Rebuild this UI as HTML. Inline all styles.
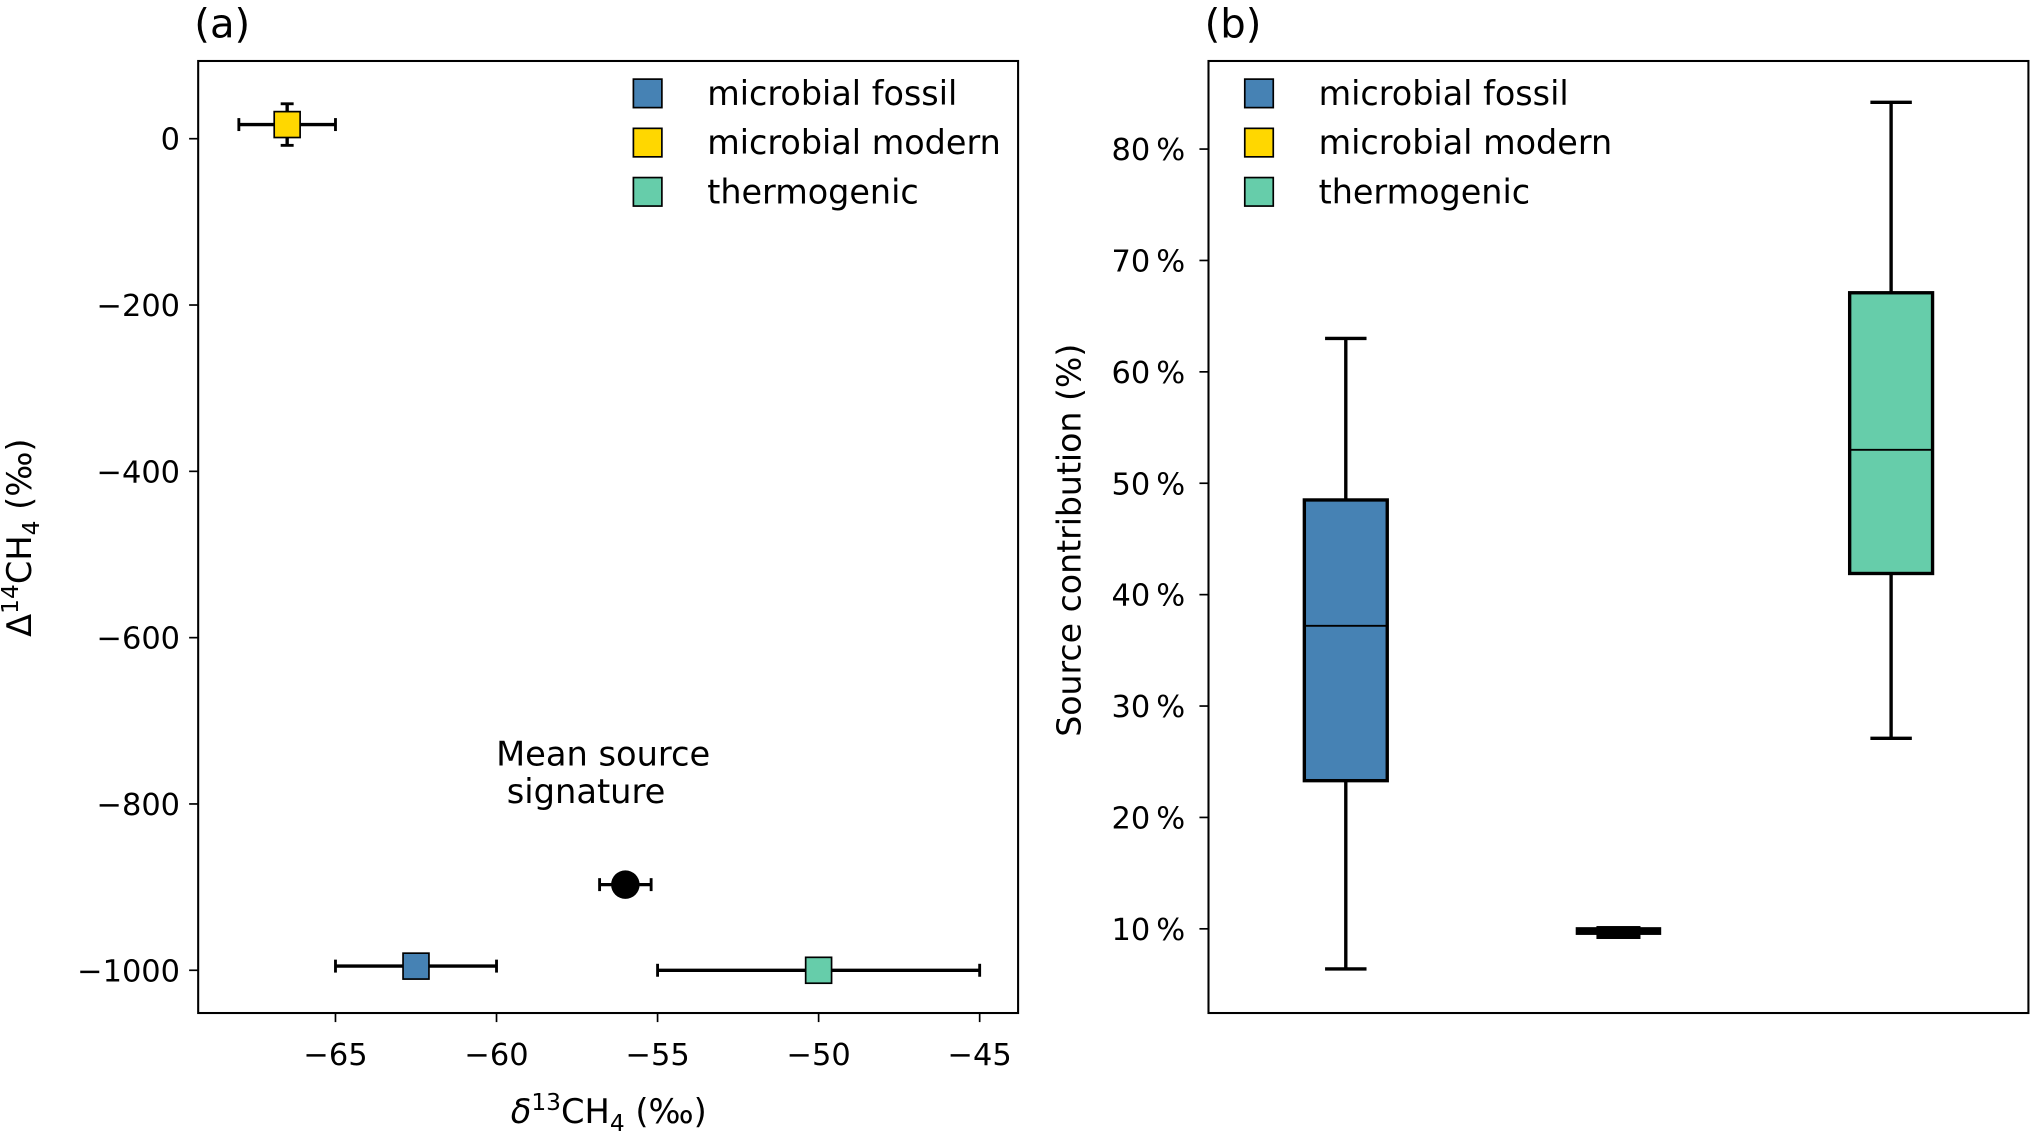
<!DOCTYPE html>
<html><head><meta charset="utf-8">
<style>html,body{margin:0;padding:0;background:#fff}svg{display:block}text{font-family:"DejaVu Sans","Liberation Sans",sans-serif;fill:#000}</style>
</head><body>
<svg id="fig" width="2031" height="1131" viewBox="0 0 1568 873" xmlns="http://www.w3.org/2000/svg">
<text x="150" y="29" font-size="31">(a)</text>
<text x="930" y="29" font-size="31">(b)</text>
<g id="pa"></g>
<g id="pb"></g>
</svg>
<script>
const NS="http://www.w3.org/2000/svg";
// Panel a data
const aNames=["microbial fossil","microbial modern","thermogenic"];
const aX=[-62.5,-66.5,-50];
const aXerr=[2.5,1.5,5];
const aY=[-995,17,-1000];
const aYerr=[0,25,0];
const meanX=-56, meanY=-897, meanXerr=0.8, meanYerr=8;
const aXTicks=[-65,-60,-55,-50,-45];
const aYTicks=[0,-200,-400,-600,-800,-1000];
// Panel b data
const bPos=[1,2,3];
const bLow=[6.4,9.95,27.1];
const bQ1=[23.3,9.9,41.9];
const bMed=[37.2,10.0,53.0];
const bQ3=[48.5,10.25,67.1];
const bHigh=[63.0,10.15,84.2];
const bTicks=[10,20,30,40,50,60,70,80];
const colors=["#4682b4","#ffd700","#66cdaa"];

function el(p,tag,attrs,txt){const e=document.createElementNS(NS,tag);for(const k in attrs)e.setAttribute(k,attrs[k]);if(txt!==undefined)e.textContent=txt;p.appendChild(e);return e;}

// ---- Panel a ----
const A={l:153,t:47,r:786,b:782};
const ax=v=>259+(v+65)*(632-259)/15;
const ay=v=>107+(0-v)*(749-107)/1000;
const pa=document.getElementById('pa');
for(const t of aXTicks){
 const l=el(pa,'line',{x1:ax(t),x2:ax(t),y1:A.b,y2:A.b+7,stroke:'#000','stroke-width':1.3});
 
 
 const tx=el(pa,'text',{x:ax(t),y:A.b+40,'font-size':23.5,'text-anchor':'middle'},'\u2212'+Math.abs(t));
 
 
}
for(const t of aYTicks){
 const l=el(pa,'line',{x1:A.l-7,x2:A.l,y1:ay(t),y2:ay(t),stroke:'#000','stroke-width':1.3});
 
 
 const tx=el(pa,'text',{x:A.l-14,y:ay(t)+8.5,'font-size':23.5,'text-anchor':'end'},(t<0?'\u2212':'')+Math.abs(t));
 
 
}
function errbar(g,x,y,xe,ye){
 el(g,'line',{x1:ax(x-xe),x2:ax(x+xe),y1:ay(y),y2:ay(y),stroke:'#000','stroke-width':2.6});
 el(g,'line',{x1:ax(x-xe),x2:ax(x-xe),y1:ay(y)-5,y2:ay(y)+5,stroke:'#000','stroke-width':2.2});
 el(g,'line',{x1:ax(x+xe),x2:ax(x+xe),y1:ay(y)-5,y2:ay(y)+5,stroke:'#000','stroke-width':2.2});
 if(ye>0){
  el(g,'line',{x1:ax(x),x2:ax(x),y1:ay(y-ye),y2:ay(y+ye),stroke:'#000','stroke-width':2.6});
  el(g,'line',{x1:ax(x)-5,x2:ax(x)+5,y1:ay(y-ye),y2:ay(y-ye),stroke:'#000','stroke-width':2.2});
  el(g,'line',{x1:ax(x)-5,x2:ax(x)+5,y1:ay(y+ye),y2:ay(y+ye),stroke:'#000','stroke-width':2.2});
 }
}
for(let i=0;i<aX.length;i++){
 const g=el(pa,'g',{});
 
 
 errbar(g,aX[i],aY[i],aXerr[i],aYerr[i]);
 el(g,'rect',{x:ax(aX[i])-10,y:ay(aY[i])-10,width:20,height:20,fill:colors[i],stroke:'#000','stroke-width':1.3});
}
const mg=el(pa,'g',{});


errbar(mg,meanX,meanY,meanXerr,0);
el(mg,'circle',{cx:ax(meanX),cy:ay(meanY),r:11,fill:'#000'});
const ann=el(pa,'text',{x:383,y:591,'font-size':26});


el(ann,'tspan',{x:383,y:591},'Mean source');
el(ann,'tspan',{x:383,y:620},' signature');
const fa=el(pa,'rect',{x:A.l,y:A.t,width:A.r-A.l,height:A.b-A.t,fill:'none',stroke:'#000','stroke-width':1.6});


const xl=el(pa,'text',{x:470,y:867,'font-size':26,'text-anchor':'middle'});


el(xl,'tspan',{'font-style':'italic'},'δ');el(xl,'tspan',{'font-size':18,dy:-10},'13');el(xl,'tspan',{dy:10},'CH');el(xl,'tspan',{'font-size':18,dy:6},'4');el(xl,'tspan',{dy:-6},' (‰)');
const yl=el(pa,'text',{x:0,y:0,'font-size':26,'text-anchor':'middle',transform:'translate(24,415) rotate(-90)'});


el(yl,'tspan',{},'Δ');el(yl,'tspan',{'font-size':18,dy:-10},'14');el(yl,'tspan',{dy:10},'CH');el(yl,'tspan',{'font-size':18,dy:6},'4');el(yl,'tspan',{dy:-6},' (‰)');

function legend(p,x0){
 for(let i=0;i<aNames.length;i++){
  const g=el(p,'g',{});
  
  
  const y=72+i*38;
  el(g,'rect',{x:x0,y:y-11,width:22,height:22,fill:colors[i],stroke:'#000','stroke-width':1.3});
  el(g,'text',{x:x0+57,y:y+9,'font-size':25.8},aNames[i]);
 }
}
legend(pa,489);

// ---- Panel b ----
const B={l:933,t:47,r:1566,b:782};
const bx=p=>1039+(p-1)*210.5;
const by=v=>717-(v-10)*8.6;
const pb=document.getElementById('pb');
for(const t of bTicks){
 const l=el(pb,'line',{x1:B.l-7,x2:B.l,y1:by(t),y2:by(t),stroke:'#000','stroke-width':1.3});
 
 
 const tx=el(pb,'text',{x:B.l-18,y:by(t)+8.5,'font-size':23.5,'text-anchor':'end'},t+'\u2009%');
 
 
}
for(let i=0;i<bPos.length;i++){
 const g=el(pb,'g',{});
 
 
 const cx=bx(bPos[i]);
 const hw=32, cw=16;
 if(i===1){
  el(g,'rect',{x:cx-33,y:by(bHigh[i]),width:66,height:Math.max(by(bLow[i])-by(bHigh[i]),6),fill:'#000'});
  el(g,'rect',{x:cx-17,y:by(bQ3[i]),width:34,height:Math.max(by(bQ1[i])-by(bQ3[i]),10),fill:'#000'});
  continue;
 }
 el(g,'line',{x1:cx,x2:cx,y1:by(bHigh[i]),y2:by(bQ3[i]),stroke:'#000','stroke-width':2.6});
 el(g,'line',{x1:cx,x2:cx,y1:by(bQ1[i]),y2:by(bLow[i]),stroke:'#000','stroke-width':2.6});
 el(g,'line',{x1:cx-cw,x2:cx+cw,y1:by(bHigh[i]),y2:by(bHigh[i]),stroke:'#000','stroke-width':2.6});
 el(g,'line',{x1:cx-cw,x2:cx+cw,y1:by(bLow[i]),y2:by(bLow[i]),stroke:'#000','stroke-width':2.6});
 el(g,'rect',{x:cx-hw,y:by(bQ3[i]),width:2*hw,height:by(bQ1[i])-by(bQ3[i]),fill:colors[i],stroke:'#000','stroke-width':2.6});
 el(g,'line',{x1:cx-hw,x2:cx+hw,y1:by(bMed[i]),y2:by(bMed[i]),stroke:'#000','stroke-width':1.5});
}
const fb=el(pb,'rect',{x:B.l,y:B.t,width:B.r-B.l,height:B.b-B.t,fill:'none',stroke:'#000','stroke-width':1.6});


const byl=el(pb,'text',{x:0,y:0,'font-size':25.6,'text-anchor':'middle',transform:'translate(834,417) rotate(-90)'},'Source contribution (%)');


legend(pb,961);
</script>
</body></html>
